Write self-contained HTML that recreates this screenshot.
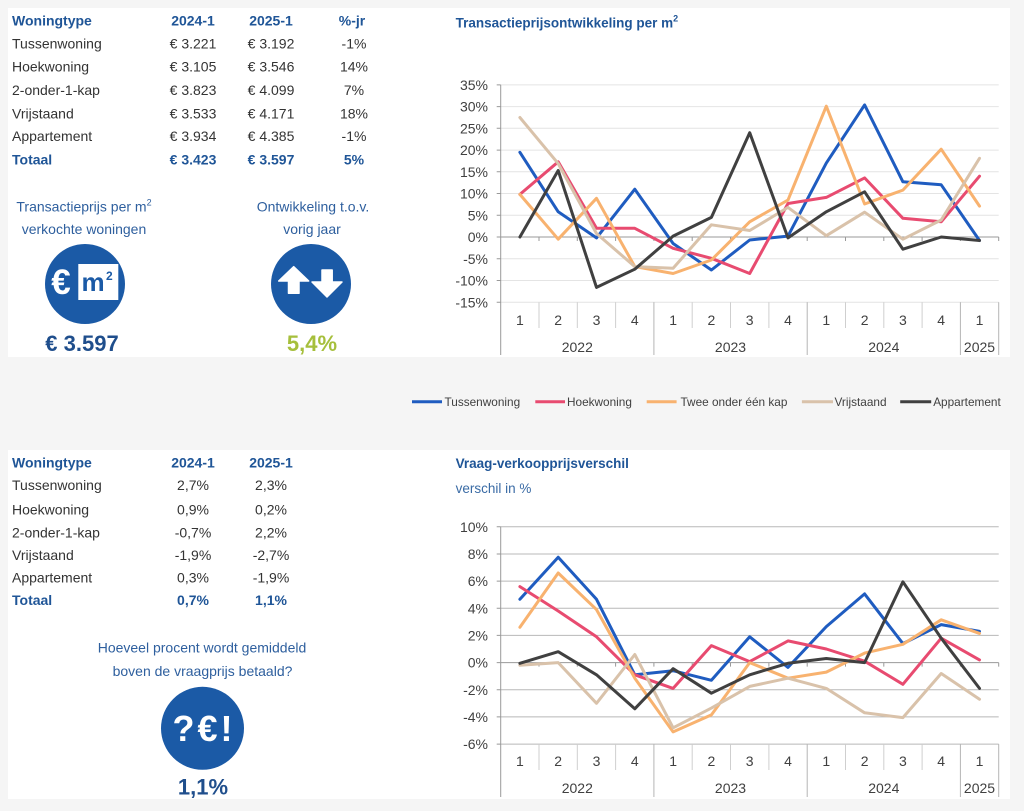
<!DOCTYPE html>
<html><head><meta charset="utf-8"><style>
html,body{margin:0;padding:0;background:#f5f5f5;}
svg{display:block;font-family:"Liberation Sans",Arial,sans-serif;}
</style></head><body>
<svg width="1024" height="811" viewBox="0 0 1024 811" xmlns="http://www.w3.org/2000/svg">
<rect x="0" y="0" width="1024" height="811" fill="#f5f5f5"/>
<rect x="8" y="8" width="1002" height="349" fill="#ffffff"/>
<rect x="8" y="450" width="1002" height="349" fill="#ffffff"/>

<!-- TABLE 1 -->
<g font-size="14" fill="#333">
<g font-weight="bold" fill="#1f5597">
<text x="12" y="25.7">Woningtype</text>
<text x="193" y="25.7" text-anchor="middle">2024-1</text>
<text x="271" y="25.7" text-anchor="middle">2025-1</text>
<text x="352" y="25.7" text-anchor="middle">%-jr</text>
</g>
<text x="12" y="48.3">Tussenwoning</text><text x="193" y="48.3" text-anchor="middle">€ 3.221</text><text x="271" y="48.3" text-anchor="middle">€ 3.192</text><text x="354" y="48.3" text-anchor="middle">-1%</text>
<text x="12" y="71.7">Hoekwoning</text><text x="193" y="71.7" text-anchor="middle">€ 3.105</text><text x="271" y="71.7" text-anchor="middle">€ 3.546</text><text x="354" y="71.7" text-anchor="middle">14%</text>
<text x="12" y="95">2-onder-1-kap</text><text x="193" y="95" text-anchor="middle">€ 3.823</text><text x="271" y="95" text-anchor="middle">€ 4.099</text><text x="354" y="95" text-anchor="middle">7%</text>
<text x="12" y="118.3">Vrijstaand</text><text x="193" y="118.3" text-anchor="middle">€ 3.533</text><text x="271" y="118.3" text-anchor="middle">€ 4.171</text><text x="354" y="118.3" text-anchor="middle">18%</text>
<text x="12" y="141">Appartement</text><text x="193" y="141" text-anchor="middle">€ 3.934</text><text x="271" y="141" text-anchor="middle">€ 4.385</text><text x="354" y="141" text-anchor="middle">-1%</text>
<g font-weight="bold" fill="#1f5597">
<text x="12" y="164.3">Totaal</text><text x="193" y="164.3" text-anchor="middle">€ 3.423</text><text x="271" y="164.3" text-anchor="middle">€ 3.597</text><text x="354" y="164.3" text-anchor="middle">5%</text>
</g>
</g>

<!-- ICONS TOP -->
<g font-size="14" fill="#2e5f9e" text-anchor="middle">
<text x="84" y="211.5">Transactieprijs per m<tspan dy="-6" font-size="9">2</tspan></text>
<text x="84" y="234">verkochte woningen</text>
<text x="313" y="211.5">Ontwikkeling t.o.v.</text>
<text x="312" y="234">vorig jaar</text>
</g>
<circle cx="85" cy="284" r="40" fill="#1b5aa6"/>
<text x="61" y="294" font-size="35" font-weight="bold" fill="#fff" text-anchor="middle">€</text>
<rect x="78.3" y="264" width="40" height="36" fill="#fff"/>
<text x="81.5" y="291" font-size="26" font-weight="bold" fill="#1b5aa6">m</text>
<text x="106" y="280" font-size="12" font-weight="bold" fill="#1b5aa6">2</text>
<text x="82" y="351" font-size="22" font-weight="bold" fill="#1f4e8c" text-anchor="middle">€ 3.597</text>

<circle cx="311" cy="284" r="40" fill="#1b5aa6"/>
<polygon points="293.7,266.7 308.7,281 299,281 299,293.3 288.5,293.3 288.5,281 278.7,281" fill="#fff" stroke="#fff" stroke-width="1.5" stroke-linejoin="round"/>
<polygon points="327,297 342,282 332.2,282 332.2,270 322,270 322,282 312,282" fill="#fff" stroke="#fff" stroke-width="1.5" stroke-linejoin="round"/>
<text x="312" y="351" font-size="22" font-weight="bold" fill="#a6bf3c" text-anchor="middle">5,4%</text>

<!-- CHART 1 -->
<text x="455.6" y="27.5" font-size="13.5" font-weight="bold" fill="#1f5597">Transactieprijsontwikkeling per m<tspan dy="-6" font-size="9">2</tspan></text>
<g stroke="#e4e4e4" stroke-width="1">
<line x1="500.7" y1="84.9" x2="998.7" y2="84.9"/>
<line x1="500.7" y1="106.6" x2="998.7" y2="106.6"/>
<line x1="500.7" y1="128.3" x2="998.7" y2="128.3"/>
<line x1="500.7" y1="150.1" x2="998.7" y2="150.1"/>
<line x1="500.7" y1="171.8" x2="998.7" y2="171.8"/>
<line x1="500.7" y1="193.5" x2="998.7" y2="193.5"/>
<line x1="500.7" y1="215.3" x2="998.7" y2="215.3"/>
<line x1="500.7" y1="258.7" x2="998.7" y2="258.7"/>
<line x1="500.7" y1="280.5" x2="998.7" y2="280.5"/>
<line x1="500.7" y1="302.2" x2="998.7" y2="302.2"/>
</g>
<g stroke="#cfcfcf" stroke-width="1">
<line x1="539" y1="302.2" x2="539" y2="328"/>
<line x1="577.3" y1="302.2" x2="577.3" y2="328"/>
<line x1="615.6" y1="302.2" x2="615.6" y2="328"/>
<line x1="692.2" y1="302.2" x2="692.2" y2="328"/>
<line x1="730.5" y1="302.2" x2="730.5" y2="328"/>
<line x1="768.9" y1="302.2" x2="768.9" y2="328"/>
<line x1="845.5" y1="302.2" x2="845.5" y2="328"/>
<line x1="883.8" y1="302.2" x2="883.8" y2="328"/>
<line x1="922.1" y1="302.2" x2="922.1" y2="328"/>
</g>
<g stroke="#b5b5b5" stroke-width="1">
<line x1="653.9" y1="302.2" x2="653.9" y2="355"/>
<line x1="807.2" y1="302.2" x2="807.2" y2="355"/>
<line x1="960.4" y1="302.2" x2="960.4" y2="355"/>
<line x1="998.7" y1="302.2" x2="998.7" y2="355"/>
</g>
<g stroke="#999" stroke-width="1">
<line x1="500.7" y1="84.9" x2="500.7" y2="355"/>
<line x1="500.7" y1="237" x2="998.7" y2="237"/>
<path d="M496.7 84.9H500.7M496.7 106.6H500.7M496.7 128.3H500.7M496.7 150.1H500.7M496.7 171.8H500.7M496.7 193.5H500.7M496.7 215.3H500.7M496.7 237H500.7M496.7 258.7H500.7M496.7 280.5H500.7M496.7 302.2H500.7"/>
<path d="M539 237V241M577.3 237V241M615.6 237V241M653.9 237V241M692.2 237V241M730.5 237V241M768.9 237V241M807.2 237V241M845.5 237V241M883.8 237V241M922.1 237V241M960.4 237V241M998.7 237V241"/>
</g>
<g font-size="14" fill="#404040" text-anchor="end">
<text x="488" y="90">35%</text><text x="488" y="111.7">30%</text><text x="488" y="133.4">25%</text><text x="488" y="155.2">20%</text><text x="488" y="176.9">15%</text><text x="488" y="198.6">10%</text><text x="488" y="220.4">5%</text><text x="488" y="242">0%</text><text x="488" y="263.8">-5%</text><text x="488" y="285.6">-10%</text><text x="488" y="307.3">-15%</text>
</g>
<g font-size="14" fill="#404040" text-anchor="middle">
<text x="519.9" y="325">1</text><text x="558.2" y="325">2</text><text x="596.5" y="325">3</text><text x="634.8" y="325">4</text><text x="673.1" y="325">1</text><text x="711.4" y="325">2</text><text x="749.7" y="325">3</text><text x="788" y="325">4</text><text x="826.3" y="325">1</text><text x="864.6" y="325">2</text><text x="902.9" y="325">3</text><text x="941.2" y="325">4</text><text x="979.5" y="325">1</text>
<text x="577.3" y="352">2022</text><text x="730.5" y="352">2023</text><text x="883.8" y="352">2024</text><text x="979.5" y="352">2025</text>
</g>
<g fill="none" stroke-width="3" stroke-linejoin="round" stroke-linecap="round">
<polyline stroke="#1f5cc0" points="519.9,152.3 558.2,211.8 596.5,237.9 634.8,189.2 673.1,243.5 711.4,270 749.7,240 788,236.1 826.3,163.1 864.6,104.9 902.9,181.8 941.2,184.8 979.5,240.5"/>
<polyline stroke="#e84b70" points="519.9,194.4 558.2,161.8 596.5,228.3 634.8,228.3 673.1,248.3 711.4,258.3 749.7,273.5 788,203.5 826.3,197.4 864.6,177.9 902.9,218.3 941.2,221.8 979.5,176.2"/>
<polyline stroke="#f8b26f" points="519.9,194.4 558.2,239.2 596.5,198.3 634.8,266.6 673.1,273.5 711.4,260 749.7,221.8 788,200.1 826.3,106.2 864.6,204 902.9,190.1 941.2,149.2 979.5,206.1"/>
<polyline stroke="#d9c2aa" points="519.9,117.5 558.2,163.6 596.5,233.5 634.8,266.6 673.1,268.3 711.4,224.8 749.7,230.5 788,207.4 826.3,235.7 864.6,212.2 902.9,239.2 941.2,220 979.5,158.3"/>
<polyline stroke="#404040" points="519.9,237 558.2,170.5 596.5,287.4 634.8,269.2 673.1,236.1 711.4,217.4 749.7,132.7 788,237.9 826.3,211.8 864.6,191.8 902.9,249.2 941.2,237 979.5,240.5"/>
</g>

<!-- LEGEND -->
<g stroke-width="3">
<line x1="412" y1="401.7" x2="442" y2="401.7" stroke="#1f5cc0"/>
<line x1="535.3" y1="401.7" x2="565" y2="401.7" stroke="#e84b70"/>
<line x1="646.7" y1="401.7" x2="676.6" y2="401.7" stroke="#f8b26f"/>
<line x1="801.9" y1="401.7" x2="833" y2="401.7" stroke="#d9c2aa"/>
<line x1="900.2" y1="401.7" x2="931.2" y2="401.7" stroke="#404040"/>
</g>
<g font-size="11.8" fill="#404040">
<text x="444.5" y="405.8">Tussenwoning</text>
<text x="567" y="405.8">Hoekwoning</text>
<text x="680.5" y="405.8">Twee onder één kap</text>
<text x="834.5" y="405.8">Vrijstaand</text>
<text x="933.2" y="405.8">Appartement</text>
</g>

<!-- TABLE 2 -->
<g font-size="14" fill="#333">
<g font-weight="bold" fill="#1f5597">
<text x="12" y="467.7">Woningtype</text>
<text x="193" y="467.7" text-anchor="middle">2024-1</text>
<text x="271" y="467.7" text-anchor="middle">2025-1</text>
</g>
<text x="12" y="490">Tussenwoning</text><text x="193" y="490" text-anchor="middle">2,7%</text><text x="271" y="490" text-anchor="middle">2,3%</text>
<text x="12" y="514.3">Hoekwoning</text><text x="193" y="514.3" text-anchor="middle">0,9%</text><text x="271" y="514.3" text-anchor="middle">0,2%</text>
<text x="12" y="537.7">2-onder-1-kap</text><text x="193" y="537.7" text-anchor="middle">-0,7%</text><text x="271" y="537.7" text-anchor="middle">2,2%</text>
<text x="12" y="560">Vrijstaand</text><text x="193" y="560" text-anchor="middle">-1,9%</text><text x="271" y="560" text-anchor="middle">-2,7%</text>
<text x="12" y="582.7">Appartement</text><text x="193" y="582.7" text-anchor="middle">0,3%</text><text x="271" y="582.7" text-anchor="middle">-1,9%</text>
<g font-weight="bold" fill="#1f5597">
<text x="12" y="605">Totaal</text><text x="193" y="605" text-anchor="middle">0,7%</text><text x="271" y="605" text-anchor="middle">1,1%</text>
</g>
</g>

<!-- ICON BOTTOM -->
<g font-size="14" fill="#2e5f9e" text-anchor="middle">
<text x="202" y="652.5">Hoeveel procent wordt gemiddeld</text>
<text x="202.5" y="676">boven de vraagprijs betaald?</text>
</g>
<circle cx="202.5" cy="728.3" r="41.5" fill="#1b5aa6"/>
<text x="204" y="741" font-size="36" font-weight="bold" fill="#fff" text-anchor="middle" letter-spacing="3">?€!</text>
<text x="203" y="794.7" font-size="22" font-weight="bold" fill="#1f4e8c" text-anchor="middle">1,1%</text>

<!-- CHART 2 -->
<text x="455.6" y="468" font-size="13.5" font-weight="bold" fill="#1f5597">Vraag-verkoopprijsverschil</text>
<text x="455.6" y="493" font-size="13.5" fill="#3a6ba5">verschil in %</text>
<g stroke="#b8b8b8" stroke-width="1">
<line x1="500.7" y1="526.8" x2="998.7" y2="526.8"/>
<line x1="500.7" y1="554" x2="998.7" y2="554"/>
<line x1="500.7" y1="581.1" x2="998.7" y2="581.1"/>
<line x1="500.7" y1="608.3" x2="998.7" y2="608.3"/>
<line x1="500.7" y1="635.4" x2="998.7" y2="635.4"/>
<line x1="500.7" y1="689.8" x2="998.7" y2="689.8"/>
<line x1="500.7" y1="716.9" x2="998.7" y2="716.9"/>
<line x1="500.7" y1="744.1" x2="998.7" y2="744.1"/>
</g>
<g stroke="#cfcfcf" stroke-width="1">
<line x1="539" y1="744.1" x2="539" y2="770"/>
<line x1="577.3" y1="744.1" x2="577.3" y2="770"/>
<line x1="615.6" y1="744.1" x2="615.6" y2="770"/>
<line x1="692.2" y1="744.1" x2="692.2" y2="770"/>
<line x1="730.5" y1="744.1" x2="730.5" y2="770"/>
<line x1="768.9" y1="744.1" x2="768.9" y2="770"/>
<line x1="845.5" y1="744.1" x2="845.5" y2="770"/>
<line x1="883.8" y1="744.1" x2="883.8" y2="770"/>
<line x1="922.1" y1="744.1" x2="922.1" y2="770"/>
</g>
<g stroke="#b5b5b5" stroke-width="1">
<line x1="653.9" y1="744.1" x2="653.9" y2="797"/>
<line x1="807.2" y1="744.1" x2="807.2" y2="797"/>
<line x1="960.4" y1="744.1" x2="960.4" y2="797"/>
<line x1="998.7" y1="744.1" x2="998.7" y2="797"/>
</g>
<g stroke="#999" stroke-width="1">
<line x1="500.7" y1="526.8" x2="500.7" y2="797"/>
<line x1="500.7" y1="662.6" x2="998.7" y2="662.6"/>
<path d="M496.7 526.8H500.7M496.7 554H500.7M496.7 581.1H500.7M496.7 608.3H500.7M496.7 635.4H500.7M496.7 662.6H500.7M496.7 689.8H500.7M496.7 716.9H500.7M496.7 744.1H500.7"/>
<path d="M539 662.6V666.6M577.3 662.6V666.6M615.6 662.6V666.6M653.9 662.6V666.6M692.2 662.6V666.6M730.5 662.6V666.6M768.9 662.6V666.6M807.2 662.6V666.6M845.5 662.6V666.6M883.8 662.6V666.6M922.1 662.6V666.6M960.4 662.6V666.6M998.7 662.6V666.6"/>
</g>
<g font-size="14" fill="#404040" text-anchor="end">
<text x="488" y="531.8">10%</text><text x="488" y="559">8%</text><text x="488" y="586.1">6%</text><text x="488" y="613.3">4%</text><text x="488" y="640.4">2%</text><text x="488" y="667.6">0%</text><text x="488" y="694.8">-2%</text><text x="488" y="721.9">-4%</text><text x="488" y="749.1">-6%</text>
</g>
<g font-size="14" fill="#404040" text-anchor="middle">
<text x="519.9" y="766">1</text><text x="558.2" y="766">2</text><text x="596.5" y="766">3</text><text x="634.8" y="766">4</text><text x="673.1" y="766">1</text><text x="711.4" y="766">2</text><text x="749.7" y="766">3</text><text x="788" y="766">4</text><text x="826.3" y="766">1</text><text x="864.6" y="766">2</text><text x="902.9" y="766">3</text><text x="941.2" y="766">4</text><text x="979.5" y="766">1</text>
<text x="577.3" y="793">2022</text><text x="730.5" y="793">2023</text><text x="883.8" y="793">2024</text><text x="979.5" y="793">2025</text>
</g>
<g fill="none" stroke-width="3" stroke-linejoin="round" stroke-linecap="round">
<polyline stroke="#1f5cc0" points="519.9,599.3 558.2,557.2 596.5,599.3 634.8,674.8 673.1,670.7 711.4,680.3 749.7,636.8 788,667.4 826.3,626.6 864.6,593.9 902.9,643.6 941.2,624.6 979.5,631.4"/>
<polyline stroke="#e84b70" points="519.9,586.6 558.2,611 596.5,636.8 634.8,674.8 673.1,688.4 711.4,645.6 749.7,661.6 788,640.9 826.3,649 864.6,661.2 902.9,684.3 941.2,638.2 979.5,659.9"/>
<polyline stroke="#f8b26f" points="519.9,627.3 558.2,573 596.5,609.6 634.8,678.2 673.1,731.9 711.4,714.9 749.7,662.6 788,678.2 826.3,672.1 864.6,653.1 902.9,644.3 941.2,619.8 979.5,633.4"/>
<polyline stroke="#d9c2aa" points="519.9,665.3 558.2,662.6 596.5,703.3 634.8,654.5 673.1,727.8 711.4,708.1 749.7,686.4 788,678.2 826.3,688.4 864.6,712.8 902.9,717.6 941.2,673.5 979.5,699.3"/>
<polyline stroke="#404040" points="519.9,663.3 558.2,651.7 596.5,674.8 634.8,708.8 673.1,668.7 711.4,693.2 749.7,674.8 788,663.3 826.3,658.5 864.6,662.6 902.9,581.8 941.2,638.2 979.5,688.4"/>
</g>
</svg>
</body></html>
